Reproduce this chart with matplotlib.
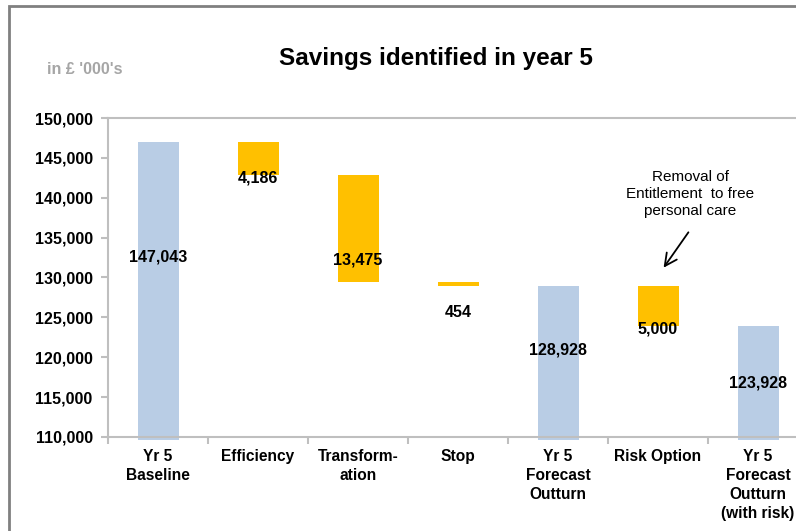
import matplotlib.pyplot as plt
import matplotlib.patches as mpatches
import numpy as np

plt.rcParams['font.family'] = ['Liberation Sans', 'DejaVu Sans']

# data
categories = ['Yr 5\nBaseline', 'Efficiency', 'Transform-\nation', 'Stop',
              'Yr 5\nForecast\nOutturn', 'Risk Option',
              'Yr 5\nForecast\nOutturn\n(with risk)']
baseline = 147043
savings = [4186, 13475, 454]
forecast = 128928
risk = 5000
forecast_risk = 123928

# build waterfall pieces
tops = [baseline]
bottoms = [109620]
level = baseline
for s in savings:
    tops.append(level)
    level = level - s
    bottoms.append(level)
tops.append(forecast)
bottoms.append(109620)
tops.append(forecast)
bottoms.append(forecast - risk)
tops.append(forecast_risk)
bottoms.append(109620)
values = [baseline] + savings + [forecast, risk, forecast_risk]
is_total = [True, False, False, False, True, False, True]
label_y = [132570, 142480, 132200, 125550, 120910, 123540, 116770]

blue = '#B9CDE5'
orange = '#FFC000'
grey = '#BFBFBF'

fig = plt.figure(figsize=(7.96, 5.31), dpi=100)
ax = fig.add_axes([108/796, 91/531, 700/796, 322/531])

# spine placement first (it resets the tick objects)
ax.spines['bottom'].set_position(('data', 110000))
ax.spines['left'].set_bounds(110000, 150000)
for side in ['bottom', 'left', 'top']:
    ax.spines[side].set_color(grey)
    ax.spines[side].set_linewidth(1.5)
ax.spines['right'].set_visible(False)

x = np.arange(len(categories))
heights = [t - b for t, b in zip(tops, bottoms)]
colors = [blue if t else orange for t in is_total]
ax.bar(x, heights, bottom=bottoms, width=0.41, color=colors, zorder=2)

for xi, v, ly in zip(x, values, label_y):
    ax.text(xi, ly, f'{v:,}', ha='center', va='center', fontsize=11.5,
            fontweight='bold', zorder=3)

ax.set_xlim(-0.5, 6.5)
ax.set_ylim(109620, 150000)
ax.set_yticks(np.arange(110000, 150001, 5000))
ax.set_yticklabels([f'{v:,}' for v in range(110000, 150001, 5000)],
                   fontsize=11.5, fontweight='bold')
ax.set_xticks(x)
ax.set_xticklabels(categories, fontsize=11.2, fontweight='bold', va='top',
                   linespacing=1.32)
ax.set_xticks(np.arange(-0.5, 7, 1), minor=True)
ax.tick_params(axis='x', which='major', length=0, pad=9)
ax.tick_params(axis='x', which='minor', length=5, color=grey, width=1.5)
ax.tick_params(axis='y', length=5, color=grey, width=1.5, pad=6)

# annotation
ax.annotate('', xy=(5.04, 130940), xytext=(5.32, 135950),
            arrowprops=dict(arrowstyle='->', color='black', lw=1.3,
                            mutation_scale=22))
ax.text(5.32, 137500, 'Removal of\nEntitlement  to free\npersonal care',
        ha='center', va='bottom', fontsize=11, linespacing=1.25)

fig.text(436/796, 1 - 58/531, 'Savings identified in year 5', ha='center',
         va='center', fontsize=17.5, fontweight='bold')
fig.text(47/796, 1 - 70/531, "in £ '000's", ha='left', va='center',
         fontsize=11.5, fontweight='bold', color='#A6A6A6')

# outer frame
fig.patches.append(mpatches.Rectangle((9/796, -0.1), 1.2, 1 - 6/531 + 0.1,
                                      transform=fig.transFigure, fill=False,
                                      edgecolor='#808080', lw=2))

fig.savefig('out.png', dpi=100)
